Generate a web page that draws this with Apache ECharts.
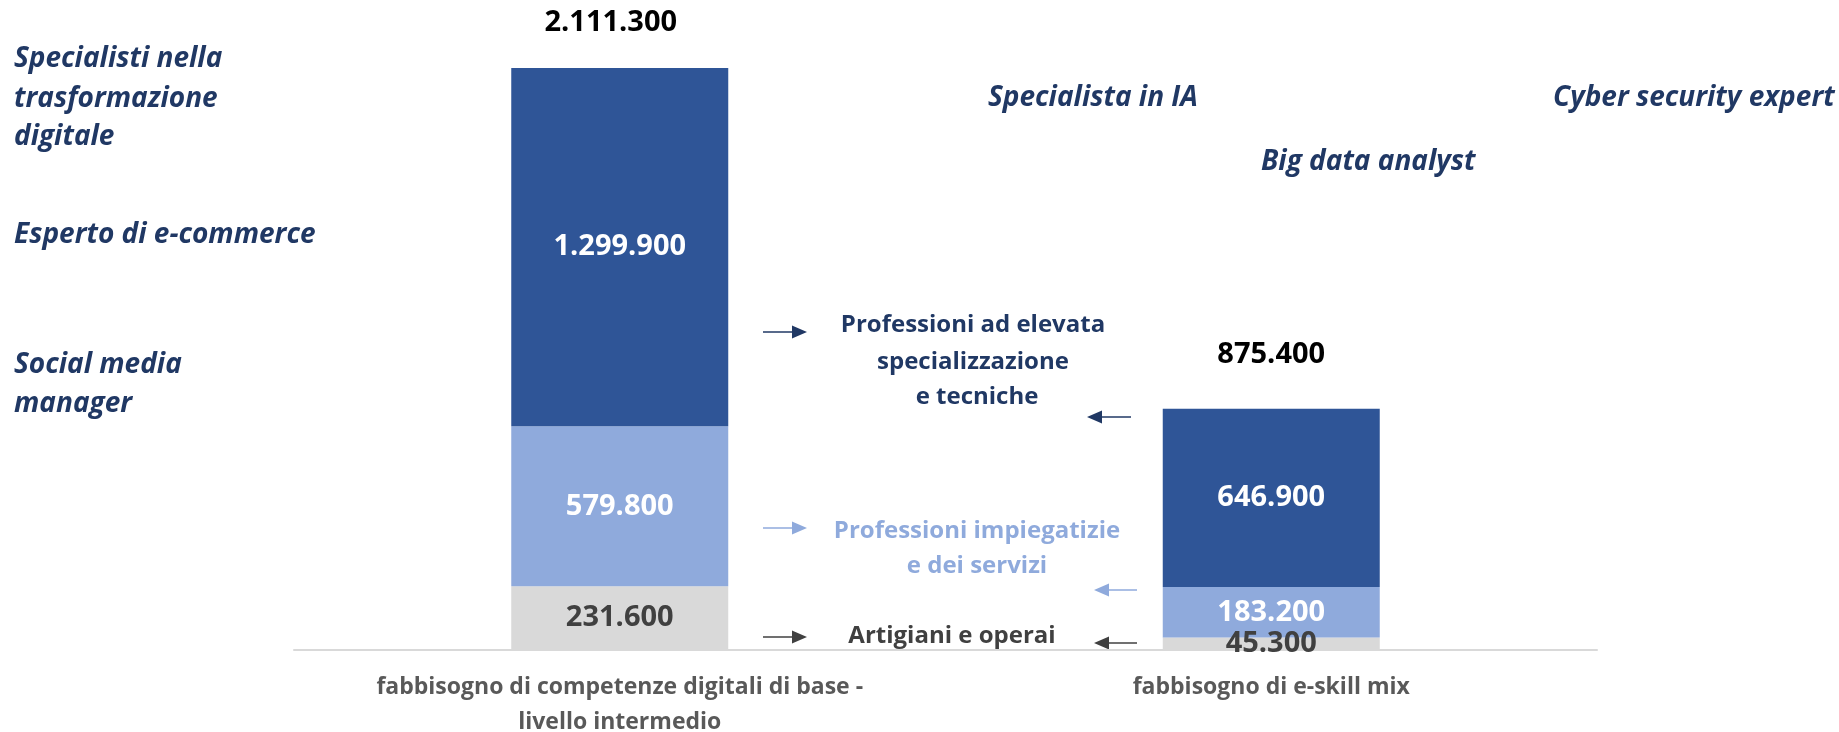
<!DOCTYPE html>
<html>
<head>
<meta charset="utf-8">
<title>Fabbisogno di competenze digitali</title>
<script src="https://cdn.jsdelivr.net/npm/echarts@6/dist/echarts.min.js"></script>
<style>
  html, body { margin: 0; padding: 0; background: #fff; }
  #chart { width: 1839px; height: 732px; }
</style>
</head>
<body>
<div id="chart"></div>
<script>
// dati
const categories = ['fabbisogno di competenze digitali di base -\nlivello intermedio', 'fabbisogno di e-skill mix'];
const artigiani = [231600, 45300];
const impiegatizie = [579800, 183200];
const elevata = [1299900, 646900];
const totals = [2111300, 875400];

const seriesNames = ['Artigiani e operai', 'Professioni impiegatizie e dei servizi', 'Professioni ad elevata specializzazione e tecniche'];
const colors = ['#D9D9D9', '#8FAADC', '#2F5597'];
const navy = '#203864';
const font = "'Open Sans', 'Noto Sans', sans-serif";

// 2111300 -> 2.111.300
const fmt = (v) => String(v).replace(/\B(?=(\d{3})+(?!\d))/g, '.');

const txt = (text, x, y, opts) => ({
  type: 'text',
  x,
  y,
  style: Object.assign({
    text,
    fill: navy,
    font: `italic bold 28px ${font}`,
    textAlign: 'left',
    textVerticalAlign: 'middle',
  }, opts || {}),
});

const note = (text, x, y, color) => txt(text, x, y, {
  font: `bold 24px ${font}`,
  textAlign: 'center',
  fill: color,
});

const arrow = (x1, x2, y, color) => {
  const dir = x2 > x1 ? 1 : -1;
  const head = 15;
  return {
    type: 'group',
    children: [
      { type: 'line', shape: { x1, y1: y, x2: x2 - dir * head, y2: y }, style: { stroke: color, lineWidth: 1.5 } },
      { type: 'polygon', shape: { points: [[x2, y], [x2 - dir * head, y - 6.5], [x2 - dir * head, y + 6.5]] }, style: { fill: color } },
    ],
  };
};

const chart = echarts.init(document.getElementById('chart'));

const barLabel = (color) => ({
  show: true,
  position: 'inside',
  color,
  fontFamily: font,
  fontWeight: 'bold',
  fontSize: 29,
  formatter: (p) => fmt(p.value),
});

chart.setOption({
  animation: false,
  grid: { left: 294, right: 242, top: 16, bottom: 82, outerBoundsMode: 'none' },
  xAxis: {
    type: 'category',
    data: categories,
    axisLine: { lineStyle: { color: '#D9D9D9', width: 2 } },
    axisTick: { show: false },
    axisLabel: {
      interval: 0,
      color: '#595959',
      fontFamily: font,
      fontWeight: 'bold',
      fontSize: 23,
      lineHeight: 35,
      margin: 20,
    },
  },
  yAxis: {
    type: 'value',
    min: 0,
    max: 2300000,
    show: false,
    splitLine: { show: false },
  },
  series: [
    {
      name: seriesNames[0],
      type: 'bar',
      stack: 'tot',
      barWidth: 217,
      itemStyle: { color: colors[0] },
      label: barLabel('#404040'),
      data: artigiani,
    },
    {
      name: seriesNames[1],
      type: 'bar',
      stack: 'tot',
      itemStyle: { color: colors[1] },
      label: barLabel('#FFFFFF'),
      data: impiegatizie,
    },
    {
      name: seriesNames[2],
      type: 'bar',
      stack: 'tot',
      itemStyle: { color: colors[2] },
      label: barLabel('#FFFFFF'),
      data: elevata,
    },
    {
      // serie vuota solo per l'etichetta del totale sopra la colonna
      name: 'Totale',
      type: 'bar',
      stack: 'tot',
      itemStyle: { color: 'transparent' },
      data: totals.map((v, i) => ({
        value: 0,
        label: {
          show: true,
          position: 'top',
          distance: i === 0 ? 31 : 39,
          offset: [i === 0 ? -9 : 0, 0],
          color: '#000000',
          fontFamily: font,
          fontWeight: 'bold',
          fontSize: 29,
          formatter: () => fmt(v),
        },
      })),
    },
  ],
  graphic: [
    txt('Specialisti nella', 14, 59),
    txt('trasformazione', 14, 99),
    txt('digitale', 14, 137),
    txt('Esperto di e-commerce', 14, 235),
    txt('Social media', 14, 365),
    txt('manager', 14, 404),
    txt('Specialista in IA', 988, 98),
    txt('Big data analyst', 1261, 162),
    txt('Cyber security expert', 1553, 98),

    note('Professioni ad elevata', 973, 325, navy),
    note('specializzazione', 973, 362, navy),
    note('e tecniche', 977, 397, navy),
    note('Professioni impiegatizie', 977, 531, '#8FAADC'),
    note('e dei servizi', 977, 566, '#8FAADC'),
    note('Artigiani e operai', 952, 636, '#404040'),

    arrow(763, 807, 332, navy),
    arrow(763, 807, 528, '#8FAADC'),
    arrow(763, 807, 637, '#404040'),
    arrow(1131, 1087, 417, navy),
    arrow(1137, 1094, 590, '#8FAADC'),
    arrow(1137, 1094, 643, '#404040'),
  ],
});

window.onresize = function () {
  chart.resize();
};
</script>
</body>
</html>
